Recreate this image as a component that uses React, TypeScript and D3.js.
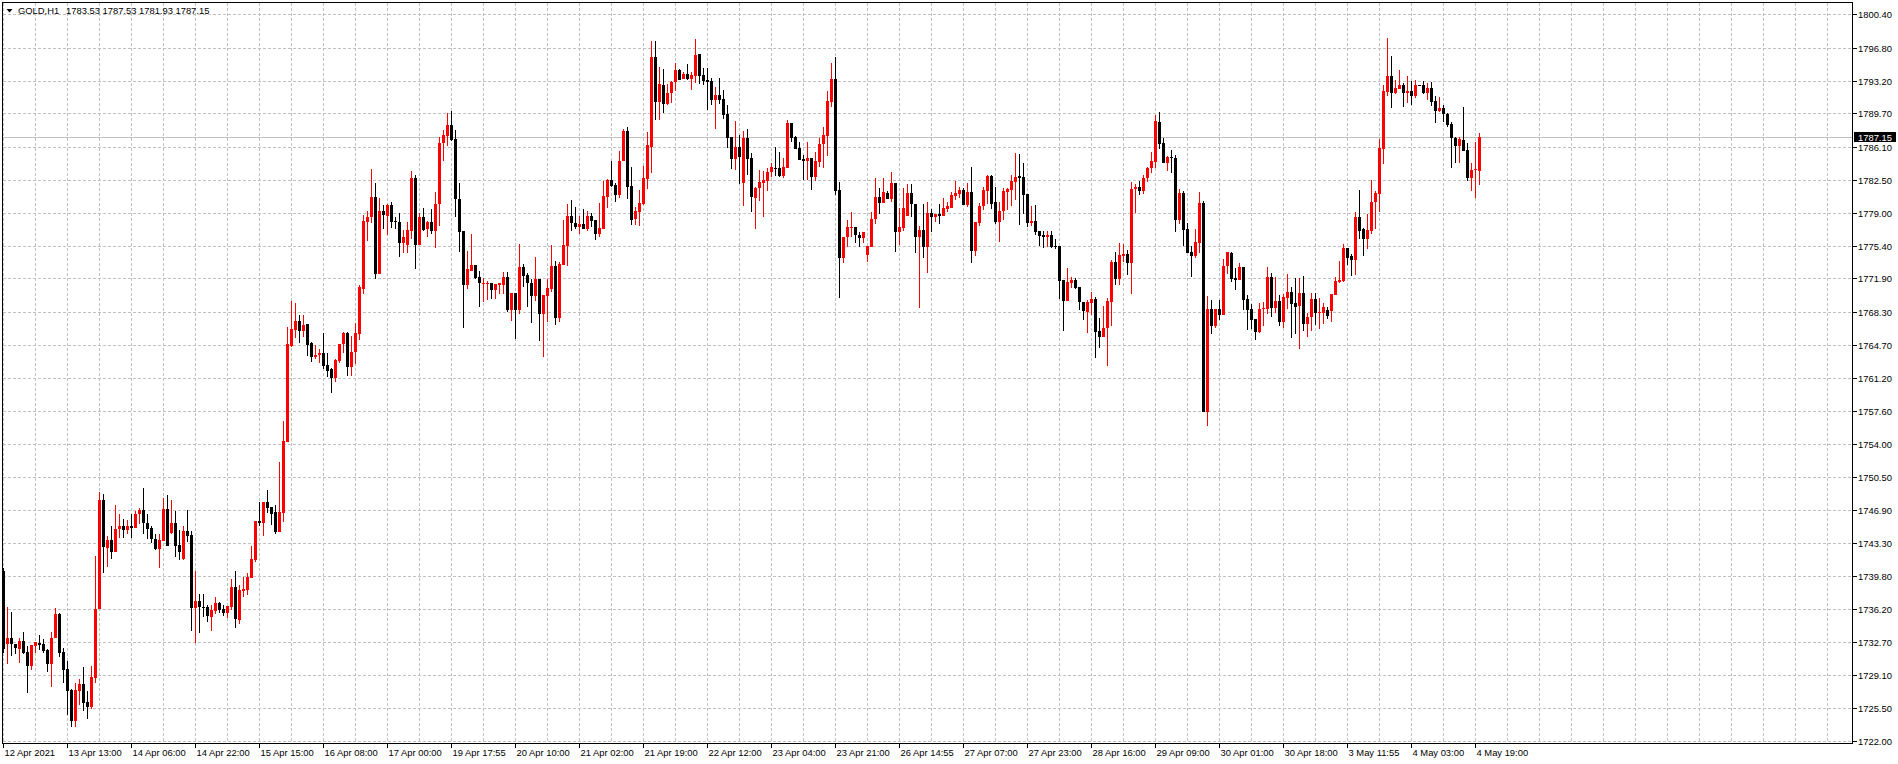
import * as d3 from "d3";

const symbolName = "GOLD,H1";
const lastQuote = [1783.53, 1787.53, 1781.93, 1787.15];

const timeLabels = [
  "12 Apr 2021", "13 Apr 13:00", "14 Apr 06:00", "14 Apr 22:00", "15 Apr 15:00",
  "16 Apr 08:00", "17 Apr 00:00", "19 Apr 17:55", "20 Apr 10:00", "21 Apr 02:00",
  "21 Apr 19:00", "22 Apr 12:00", "23 Apr 04:00", "23 Apr 21:00", "26 Apr 14:55",
  "27 Apr 07:00", "27 Apr 23:00", "28 Apr 16:00", "29 Apr 09:00", "30 Apr 01:00",
  "30 Apr 18:00", "3 May 11:55", "4 May 03:00", "4 May 19:00",
];

const priceTicks = [
  1722.0, 1725.5, 1729.1, 1732.7, 1736.2, 1739.8, 1743.3, 1746.9, 1750.5, 1754.0,
  1757.6, 1761.2, 1764.7, 1768.3, 1771.9, 1775.4, 1779.0, 1782.5, 1786.1, 1789.7,
  1793.2, 1796.8, 1800.4,
];

// hourly bars: open, high, low, close
const bars: number[][] = [
  [1740.38, 1740.6, 1731.5, 1731.9], [1732.5, 1736.4, 1730.26, 1733.08], [1733.08, 1735.93, 1731.16, 1732.4],
  [1732.46, 1732.46, 1731.34, 1731.99], [1731.96, 1733.08, 1730.44, 1732.79], [1732.79, 1733.76, 1731.34, 1731.52],
  [1731.6, 1732.25, 1727.19, 1730.08], [1730.08, 1732.36, 1729.64, 1732.36], [1732.25, 1732.68, 1731.52, 1732.68],
  [1732.57, 1733.44, 1731.81, 1732.39], [1732.46, 1732.97, 1731.52, 1731.7], [1731.81, 1731.88, 1729.43, 1730.33],
  [1730.33, 1733.76, 1727.8, 1733.08], [1733.08, 1736.3, 1733.08, 1735.72], [1735.72, 1735.79, 1731.09, 1731.52],
  [1731.6, 1732.07, 1728.27, 1729.64], [1729.75, 1730.62, 1724.77, 1727.4], [1727.48, 1727.58, 1723.46, 1724.12],
  [1724.12, 1728.24, 1723.46, 1727.48], [1727.37, 1728.67, 1725.92, 1728.13], [1728.13, 1729.97, 1725.2, 1726.1],
  [1726.17, 1727.37, 1724.37, 1725.63], [1725.63, 1730.08, 1725.49, 1728.88], [1728.81, 1742.0, 1728.27, 1736.22],
  [1736.22, 1748.8, 1736.22, 1747.97], [1747.97, 1748.62, 1740.09, 1742.91], [1742.8, 1744.06, 1740.74, 1743.63],
  [1743.63, 1745.15, 1741.57, 1742.37], [1742.37, 1747.43, 1742.37, 1744.9], [1744.82, 1746.45, 1743.88, 1745.15],
  [1745.15, 1745.98, 1743.88, 1744.71], [1744.71, 1745.8, 1744.28, 1745.15], [1745.15, 1746.45, 1743.88, 1744.97],
  [1744.97, 1746.81, 1744.97, 1746.52], [1746.52, 1747.17, 1745.44, 1746.88], [1746.88, 1749.23, 1744.35, 1745.55],
  [1745.55, 1746.45, 1743.74, 1744.82], [1745.0, 1745.15, 1743.34, 1743.81], [1743.81, 1744.28, 1742.55, 1742.66],
  [1742.66, 1744.28, 1740.63, 1743.63], [1743.56, 1748.15, 1743.56, 1747.06], [1747.06, 1748.51, 1742.98, 1742.98],
  [1744.46, 1748.04, 1744.28, 1745.55], [1745.55, 1746.81, 1741.82, 1742.98], [1743.09, 1744.71, 1741.53, 1742.37],
  [1741.6, 1745.17, 1741.5, 1744.63], [1744.63, 1746.9, 1743.47, 1744.12], [1744.22, 1744.65, 1733.9, 1736.31],
  [1736.31, 1740.33, 1732.53, 1737.1], [1737.1, 1737.85, 1733.68, 1736.49], [1736.49, 1737.85, 1735.41, 1736.31],
  [1736.49, 1736.67, 1734.87, 1735.48], [1735.41, 1736.67, 1733.9, 1736.13], [1736.06, 1737.5, 1735.7, 1736.85],
  [1736.85, 1736.96, 1735.77, 1736.13], [1736.2, 1736.67, 1735.48, 1735.84], [1735.84, 1736.56, 1735.23, 1736.56],
  [1736.49, 1739.47, 1736.13, 1738.57], [1738.57, 1740.33, 1734.22, 1735.12], [1735.05, 1738.82, 1734.58, 1738.29],
  [1738.18, 1739.65, 1737.57, 1738.39], [1738.29, 1740.08, 1737.75, 1739.72], [1739.61, 1743.03, 1739.61, 1741.63],
  [1741.52, 1745.73, 1741.34, 1745.73], [1745.73, 1747.81, 1745.23, 1745.48], [1745.48, 1747.81, 1744.15, 1747.81],
  [1747.81, 1749.07, 1746.55, 1747.16], [1747.27, 1747.27, 1745.3, 1746.48], [1746.66, 1747.45, 1744.33, 1744.58],
  [1744.58, 1752.13, 1744.58, 1746.66], [1746.62, 1756.55, 1745.66, 1754.36], [1754.21, 1766.69, 1754.21, 1764.78],
  [1764.64, 1769.46, 1764.53, 1766.44], [1766.33, 1769.21, 1765.43, 1767.3], [1767.3, 1767.95, 1764.96, 1766.26],
  [1766.26, 1767.95, 1765.61, 1766.87], [1766.94, 1766.94, 1763.56, 1764.71], [1764.89, 1765.0, 1762.91, 1763.45],
  [1763.38, 1764.71, 1763.17, 1763.63], [1763.63, 1764.28, 1762.81, 1763.81], [1763.88, 1766.04, 1762.12, 1762.48],
  [1762.56, 1763.81, 1761.3, 1761.94], [1762.09, 1762.27, 1759.57, 1761.19], [1761.19, 1763.17, 1760.76, 1763.1],
  [1762.99, 1764.82, 1762.81, 1764.82], [1764.78, 1766.15, 1763.89, 1766.04], [1766.04, 1766.15, 1761.37, 1762.38],
  [1762.38, 1765.72, 1761.41, 1763.92], [1763.92, 1767.12, 1762.63, 1766.04], [1765.86, 1771.19, 1765.25, 1771.0],
  [1770.75, 1778.74, 1770.18, 1778.09], [1778.02, 1779.17, 1775.97, 1778.56], [1778.48, 1783.7, 1777.84, 1780.68],
  [1780.68, 1782.19, 1771.83, 1772.41], [1772.41, 1780.53, 1772.41, 1779.17], [1779.17, 1779.81, 1777.22, 1778.73],
  [1778.66, 1779.92, 1776.58, 1779.81], [1779.81, 1780.17, 1777.37, 1777.94], [1778.12, 1778.48, 1777.22, 1778.02],
  [1777.94, 1778.91, 1774.24, 1775.75], [1775.75, 1777.12, 1774.67, 1776.4], [1775.5, 1778.02, 1774.67, 1777.12],
  [1777.04, 1783.52, 1776.11, 1782.76], [1782.76, 1783.05, 1772.91, 1775.5], [1775.5, 1778.91, 1775.5, 1778.55],
  [1778.55, 1779.45, 1777.01, 1777.12], [1777.19, 1778.12, 1776.4, 1778.02], [1778.02, 1779.35, 1776.65, 1777.01],
  [1777.01, 1781.25, 1775.21, 1779.96], [1779.96, 1787.11, 1777.55, 1786.54], [1786.47, 1787.9, 1784.6, 1787.36],
  [1787.29, 1789.7, 1786.21, 1788.44], [1788.44, 1789.95, 1786.75, 1786.83], [1786.93, 1787.9, 1778.55, 1780.42],
  [1780.46, 1782.19, 1774.78, 1776.94], [1777.01, 1777.01, 1766.58, 1771.18], [1771.18, 1774.85, 1770.75, 1772.91],
  [1772.74, 1776.68, 1772.73, 1773.34], [1773.34, 1773.34, 1771.83, 1771.97], [1772.08, 1772.69, 1768.85, 1771.36],
  [1771.29, 1771.9, 1769.39, 1771.43], [1771.29, 1771.61, 1769.57, 1771.43], [1771.43, 1771.43, 1769.64, 1770.64],
  [1770.64, 1771.25, 1769.68, 1771.25], [1771.18, 1771.43, 1770.18, 1771.36], [1771.18, 1772.55, 1770.18, 1772.08],
  [1772.08, 1772.55, 1768.31, 1768.49], [1768.49, 1770.36, 1767.34, 1770.36], [1770.36, 1770.36, 1765.36, 1768.49],
  [1768.49, 1775.57, 1768.02, 1773.16], [1773.16, 1773.45, 1771.0, 1772.15], [1772.26, 1772.51, 1768.85, 1771.36],
  [1771.43, 1771.79, 1767.12, 1770.04], [1770.04, 1774.24, 1769.49, 1771.83], [1771.83, 1771.83, 1765.18, 1768.02],
  [1768.02, 1770.11, 1763.45, 1770.11], [1770.04, 1771.83, 1767.16, 1770.82], [1770.75, 1775.5, 1770.46, 1773.27],
  [1773.23, 1773.77, 1766.9, 1767.6], [1767.6, 1773.7, 1767.2, 1773.4], [1773.34, 1778.2, 1773.34, 1775.5],
  [1775.43, 1779.88, 1773.27, 1778.62], [1778.62, 1780.35, 1777.04, 1777.84], [1777.84, 1779.63, 1777.19, 1777.48],
  [1777.48, 1778.62, 1776.68, 1777.73], [1777.73, 1779.38, 1777.19, 1777.19], [1777.19, 1779.16, 1777.04, 1778.62],
  [1778.62, 1778.91, 1777.48, 1778.12], [1778.19, 1778.19, 1776.04, 1776.65], [1776.65, 1779.99, 1776.4, 1777.3],
  [1777.22, 1782.4, 1777.22, 1780.82], [1780.71, 1782.62, 1779.52, 1782.51], [1782.51, 1784.56, 1781.79, 1781.9],
  [1781.97, 1782.15, 1780.17, 1780.89], [1780.89, 1785.64, 1780.6, 1784.56], [1784.56, 1787.97, 1784.56, 1787.79],
  [1787.79, 1788.26, 1780.46, 1781.79], [1781.86, 1783.95, 1777.65, 1778.19], [1778.3, 1779.63, 1777.65, 1779.16],
  [1779.09, 1781.43, 1777.55, 1779.99], [1779.88, 1784.02, 1779.81, 1782.69], [1782.62, 1787.72, 1781.5, 1786.28],
  [1786.1, 1797.5, 1783.23, 1795.81], [1795.81, 1797.5, 1788.98, 1790.96], [1790.96, 1794.73, 1788.98, 1792.86],
  [1792.76, 1794.45, 1789.77, 1790.67], [1790.67, 1792.86, 1790.6, 1791.93], [1791.86, 1793.19, 1790.78, 1793.12],
  [1793.05, 1795.17, 1792.15, 1794.37], [1794.37, 1794.45, 1793.3, 1793.3], [1793.4, 1794.2, 1793.4, 1793.94],
  [1793.94, 1795.02, 1793.3, 1793.4], [1793.4, 1794.2, 1792.22, 1793.84], [1793.76, 1797.72, 1792.94, 1795.99],
  [1796.1, 1796.1, 1792.86, 1793.76], [1793.84, 1794.55, 1792.76, 1793.23], [1793.3, 1794.55, 1790.06, 1793.12],
  [1793.23, 1793.48, 1790.6, 1791.14], [1791.14, 1792.58, 1788.01, 1791.68], [1791.68, 1793.48, 1790.71, 1791.14],
  [1791.21, 1792.22, 1789.05, 1789.52], [1789.63, 1790.6, 1786.0, 1787.08], [1787.18, 1787.18, 1783.66, 1784.77],
  [1784.77, 1788.91, 1783.59, 1786.1], [1786.1, 1787.36, 1782.1, 1785.03], [1782.15, 1787.79, 1779.7, 1787.07],
  [1787.07, 1788.01, 1783.05, 1784.77], [1784.92, 1785.46, 1779.09, 1780.71], [1780.6, 1781.79, 1777.22, 1781.68],
  [1781.61, 1783.59, 1780.28, 1782.33], [1782.15, 1783.52, 1778.55, 1782.51], [1782.44, 1783.84, 1781.36, 1783.41],
  [1783.41, 1784.38, 1782.87, 1783.95], [1783.84, 1786.1, 1782.98, 1783.77], [1783.77, 1785.56, 1782.8, 1782.98],
  [1782.98, 1784.84, 1782.76, 1783.95], [1783.84, 1789.0, 1783.84, 1788.69], [1788.69, 1788.69, 1786.64, 1787.07],
  [1787.18, 1787.29, 1785.85, 1785.85], [1785.92, 1786.64, 1784.67, 1784.67], [1784.77, 1785.2, 1782.51, 1784.6],
  [1784.6, 1786.57, 1782.51, 1784.85], [1784.85, 1784.92, 1781.43, 1782.87], [1782.87, 1785.49, 1782.44, 1784.56],
  [1784.49, 1787.0, 1783.95, 1786.39], [1786.36, 1788.2, 1783.84, 1787.36], [1787.25, 1792.11, 1785.13, 1791.03],
  [1790.96, 1795.09, 1790.42, 1793.37], [1793.37, 1795.81, 1780.89, 1781.32], [1781.43, 1782.33, 1769.81, 1774.06],
  [1774.06, 1776.4, 1773.52, 1776.4], [1776.32, 1778.19, 1775.32, 1777.48], [1777.37, 1779.09, 1776.4, 1777.48],
  [1777.48, 1777.48, 1775.75, 1776.58], [1776.58, 1776.94, 1775.32, 1776.22], [1776.22, 1776.94, 1775.75, 1776.94],
  [1774.42, 1775.39, 1773.7, 1775.39], [1775.32, 1779.09, 1775.32, 1778.26], [1778.26, 1782.69, 1777.76, 1780.71],
  [1780.71, 1781.61, 1778.84, 1780.06], [1780.06, 1782.69, 1780.06, 1781.25], [1781.14, 1781.32, 1780.46, 1780.46],
  [1780.46, 1783.41, 1780.17, 1782.22], [1782.22, 1782.22, 1774.78, 1776.94], [1776.94, 1779.45, 1775.5, 1777.48],
  [1777.37, 1781.68, 1777.04, 1779.45], [1778.66, 1782.04, 1778.66, 1781.07], [1781.07, 1782.04, 1778.55, 1779.88],
  [1779.88, 1779.88, 1774.67, 1776.4], [1776.4, 1777.55, 1768.74, 1777.12], [1777.12, 1779.9, 1774.13, 1775.32],
  [1775.32, 1780.1, 1772.51, 1778.91], [1778.91, 1779.38, 1776.94, 1778.55], [1778.55, 1778.8, 1778.02, 1778.8],
  [1778.84, 1779.88, 1777.73, 1778.66], [1778.66, 1780.53, 1778.66, 1779.45], [1779.38, 1780.1, 1779.09, 1779.7],
  [1779.52, 1781.18, 1779.52, 1780.89], [1780.82, 1782.4, 1780.35, 1781.14], [1781.0, 1781.72, 1780.53, 1781.43],
  [1781.43, 1781.68, 1779.81, 1779.81], [1779.81, 1782.22, 1779.56, 1781.22], [1781.22, 1783.95, 1773.59, 1774.85],
  [1774.85, 1777.98, 1774.31, 1777.98], [1777.91, 1779.99, 1777.55, 1779.7], [1779.7, 1781.72, 1779.27, 1781.43],
  [1781.36, 1783.05, 1779.92, 1782.94], [1782.94, 1783.05, 1779.38, 1779.92], [1780.1, 1781.72, 1777.73, 1778.02],
  [1778.02, 1780.1, 1775.86, 1779.16], [1779.16, 1781.61, 1778.19, 1781.32], [1781.25, 1781.68, 1779.27, 1781.5],
  [1781.43, 1783.05, 1779.7, 1782.4], [1782.33, 1785.39, 1780.35, 1782.87], [1782.94, 1785.28, 1777.66, 1782.76],
  [1782.8, 1784.31, 1778.84, 1780.89], [1781.0, 1781.0, 1777.48, 1777.91], [1777.91, 1779.7, 1777.55, 1778.12],
  [1778.12, 1779.81, 1776.58, 1776.94], [1777.01, 1777.01, 1775.39, 1776.5], [1776.58, 1777.01, 1775.21, 1776.4],
  [1776.4, 1777.01, 1775.32, 1776.58], [1776.58, 1777.01, 1775.21, 1775.32], [1775.39, 1776.14, 1775.07, 1775.25],
  [1775.39, 1775.39, 1769.67, 1771.65], [1771.72, 1771.72, 1766.26, 1769.49], [1769.49, 1772.98, 1769.49, 1771.47],
  [1771.43, 1772.08, 1770.89, 1771.72], [1771.72, 1771.9, 1770.75, 1770.89], [1770.93, 1770.93, 1768.49, 1769.38],
  [1769.38, 1769.38, 1767.41, 1768.42], [1768.24, 1769.56, 1766.04, 1769.31], [1769.27, 1770.46, 1767.95, 1769.67],
  [1769.67, 1769.92, 1763.27, 1766.15], [1766.22, 1767.59, 1764.35, 1765.61], [1765.54, 1768.92, 1765.54, 1766.51],
  [1766.51, 1769.82, 1762.48, 1769.45], [1769.38, 1773.88, 1766.8, 1773.7], [1773.7, 1774.78, 1771.18, 1771.83],
  [1771.83, 1775.75, 1771.18, 1774.42], [1774.35, 1775.57, 1773.63, 1774.53], [1774.53, 1774.96, 1772.26, 1773.59],
  [1773.59, 1782.33, 1770.21, 1781.54], [1781.5, 1782.04, 1778.98, 1781.79], [1781.79, 1782.4, 1780.89, 1781.36],
  [1781.36, 1783.05, 1781.0, 1782.76], [1782.69, 1783.95, 1782.33, 1783.84], [1783.77, 1785.57, 1783.3, 1784.6],
  [1784.49, 1789.52, 1783.84, 1788.87], [1788.8, 1789.88, 1785.82, 1786.39], [1786.54, 1787.08, 1784.38, 1784.38],
  [1784.38, 1785.1, 1783.52, 1785.03], [1785.03, 1785.75, 1783.3, 1784.85], [1784.92, 1785.21, 1776.94, 1778.19],
  [1778.19, 1781.54, 1777.73, 1781.14], [1781.14, 1781.32, 1775.43, 1777.12], [1777.19, 1777.84, 1774.6, 1774.67],
  [1774.71, 1775.43, 1772.08, 1774.35], [1774.35, 1777.19, 1774.13, 1775.82], [1775.75, 1781.18, 1774.67, 1780.06],
  [1780.06, 1780.24, 1757.45, 1757.52], [1757.52, 1769.99, 1756.01, 1768.59], [1768.59, 1769.56, 1765.9, 1766.8],
  [1766.8, 1768.59, 1766.51, 1768.59], [1768.59, 1769.56, 1767.41, 1767.95], [1767.95, 1773.99, 1767.95, 1773.23],
  [1773.23, 1774.78, 1772.37, 1774.78], [1774.67, 1774.78, 1771.54, 1771.83], [1771.97, 1772.98, 1770.64, 1771.72],
  [1771.72, 1773.52, 1771.72, 1773.09], [1773.09, 1773.09, 1768.49, 1769.56], [1769.64, 1770.1, 1766.33, 1768.49],
  [1768.59, 1769.13, 1766.44, 1767.41], [1767.52, 1767.52, 1765.25, 1766.15], [1766.08, 1769.2, 1765.97, 1768.59],
  [1768.59, 1769.38, 1766.8, 1768.74], [1768.59, 1773.09, 1768.05, 1772.01], [1772.01, 1772.51, 1767.7, 1768.74],
  [1768.74, 1772.01, 1768.13, 1769.46], [1769.46, 1770.1, 1766.8, 1767.23], [1767.23, 1770.17, 1766.51, 1769.85],
  [1769.82, 1772.37, 1768.59, 1770.39], [1770.42, 1771.0, 1765.43, 1769.13], [1769.27, 1771.9, 1765.9, 1768.85],
  [1768.92, 1771.97, 1764.24, 1770.28], [1770.28, 1772.15, 1766.26, 1766.98], [1766.98, 1768.13, 1765.54, 1767.7],
  [1767.7, 1770.35, 1766.26, 1769.67], [1769.67, 1770.28, 1766.87, 1768.2], [1768.2, 1769.74, 1766.4, 1768.31],
  [1768.2, 1769.27, 1766.94, 1768.85], [1768.49, 1768.85, 1767.48, 1767.84], [1768.42, 1770.21, 1767.23, 1770.21],
  [1770.1, 1772.01, 1770.1, 1771.65], [1771.54, 1773.81, 1771.36, 1771.72], [1771.65, 1775.61, 1771.54, 1775.21],
  [1775.21, 1775.21, 1773.34, 1774.06], [1774.31, 1774.53, 1772.15, 1773.88], [1773.88, 1779.09, 1772.26, 1778.55],
  [1778.55, 1781.43, 1776.1, 1777.01], [1777.19, 1777.3, 1774.31, 1776.1], [1776.1, 1778.84, 1775.07, 1777.12],
  [1777.01, 1782.51, 1776.68, 1780.17], [1780.1, 1781.32, 1777.19, 1781.14], [1781.0, 1786.97, 1779.02, 1785.92],
  [1785.82, 1792.76, 1784.24, 1792.11], [1792.04, 1797.86, 1791.61, 1793.73], [1793.73, 1795.88, 1790.31, 1791.86],
  [1791.86, 1793.3, 1791.79, 1792.4], [1792.33, 1794.37, 1792.33, 1792.76], [1792.76, 1793.01, 1790.42, 1791.86],
  [1791.93, 1793.73, 1790.85, 1792.11], [1792.15, 1793.23, 1790.6, 1791.57], [1791.57, 1793.3, 1791.39, 1792.76],
  [1792.76, 1792.76, 1792.69, 1792.69], [1792.76, 1793.19, 1791.75, 1791.86], [1791.93, 1793.01, 1791.14, 1792.4],
  [1792.4, 1793.05, 1790.49, 1790.96], [1791.03, 1791.57, 1788.62, 1789.99], [1789.99, 1791.43, 1789.81, 1790.31],
  [1790.31, 1790.6, 1788.8, 1789.63], [1789.63, 1789.7, 1788.26, 1788.44], [1788.55, 1788.8, 1783.84, 1787.0],
  [1787.07, 1787.18, 1784.38, 1786.18], [1786.18, 1787.18, 1784.38, 1786.93], [1786.82, 1790.42, 1785.67, 1785.67],
  [1785.74, 1786.46, 1782.44, 1782.69], [1782.69, 1784.38, 1781.32, 1783.59], [1783.59, 1786.64, 1780.6, 1783.66],
  [1783.53, 1787.53, 1781.93, 1787.15],
];

const FONT = "'Liberation Sans', Arial, sans-serif";

export default function App() {
  const width = 1898;
  const height = 764;
  const plotLeft = 2.5;
  const plotRight = 1852.5;
  const plotTop = 2.5;
  const plotBottom = 743.5;

  // one bar every 4px
  const x = d3.scaleLinear().domain([0, 1]).range([3.5, 7.5]);
  const y = d3.scaleLinear().domain([1722.0, 1800.4]).range([740.9, 14.15]);
  const snap = (v: number) => Math.round(v) + 0.5;

  const gridBars = d3.range(0, 460, 8).filter((b) => x(b) < plotRight);
  const lastClose = lastQuote[3];
  const yLast = snap(y(lastClose));

  return (
    <svg
      width={width}
      height={height}
      style={{ position: "absolute", left: 0, top: 0, display: "block", background: "#fff" }}
      fontFamily={FONT}
    >
      {/* grid */}
      <g stroke="#c0c0c0" strokeDasharray="3 2" shapeRendering="crispEdges">
        {gridBars.map((b) => (
          <line key={"v" + b} x1={x(b)} x2={x(b)} y1={plotTop} y2={plotBottom} />
        ))}
        {priceTicks.map((p) => (
          <line key={"h" + p} x1={plotLeft} x2={plotRight} y1={snap(y(p))} y2={snap(y(p))} />
        ))}
      </g>

      {/* last price line */}
      <line x1={plotLeft} x2={plotRight} y1={yLast} y2={yLast} stroke="#c0c0c0" shapeRendering="crispEdges" />

      {/* candles */}
      <g shapeRendering="crispEdges">
        {bars.map(([o, h, l, c], i) => {
          const cx = x(i);
          const up = c > o;
          const color = up ? "#ff0000" : "#000000";
          const hi = Math.round(y(Math.max(h, o, c)));
          const lo = Math.round(y(Math.min(l, o, c)));
          const bt = Math.round(y(Math.max(o, c)));
          const bb = Math.round(y(Math.min(o, c)));
          return (
            <g key={i} fill={color}>
              <rect x={cx - 0.5} y={hi} width={1} height={Math.max(1, lo - hi)} />
              <rect x={cx - 1.5} y={bt} width={3} height={Math.max(1, bb - bt)} />
            </g>
          );
        })}
      </g>

      {/* frame */}
      <rect
        x={plotLeft}
        y={plotTop}
        width={plotRight - plotLeft}
        height={plotBottom - plotTop}
        fill="none"
        stroke="#000"
        shapeRendering="crispEdges"
      />

      {/* price scale */}
      <g fontSize={9.4} fill="#000">
        {priceTicks.map((p) => (
          <g key={"pt" + p}>
            <line x1={plotRight} x2={plotRight + 4} y1={snap(y(p))} y2={snap(y(p))} stroke="#000" shapeRendering="crispEdges" />
            <text x={1858} y={snap(y(p))} dy="0.35em">
              {p.toFixed(2)}
            </text>
          </g>
        ))}
        <rect x={1854} y={yLast - 5.5} width={42} height={10} fill="#000" />
        <text x={1858} y={yLast} dy="0.35em" fill="#fff">
          {lastClose.toFixed(2)}
        </text>
      </g>

      {/* time scale */}
      <g fontSize={9.4} fill="#000">
        {timeLabels.map((t, m) => {
          const tx = x(m * 16);
          return (
            <g key={t}>
              <line x1={tx} x2={tx} y1={plotBottom} y2={plotBottom + 4} stroke="#000" shapeRendering="crispEdges" />
              <text x={tx + 1} y={756}>
                {t}
              </text>
            </g>
          );
        })}
      </g>

      {/* header */}
      <path d="M6.5,9 L12.5,9 L9.5,12.5 Z" fill="#000" />
      <g fontSize={9.4} fill="#000">
        <text x={18} y={14}>{symbolName}</text>
        <text x={66} y={14}>{lastQuote.map((v) => v.toFixed(2)).join(" ")}</text>
      </g>
    </svg>
  );
}
